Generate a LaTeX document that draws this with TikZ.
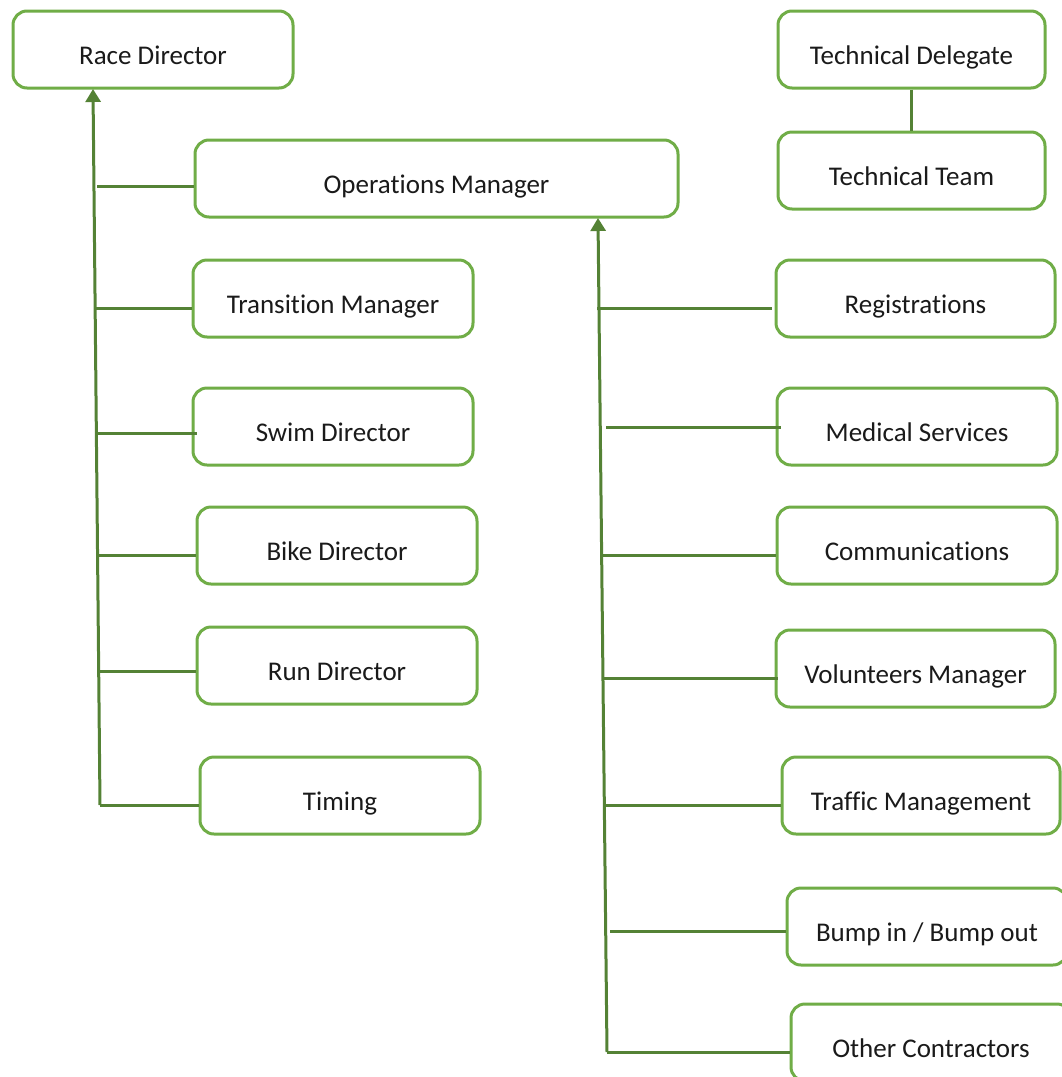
\documentclass[tikz,border=0pt]{standalone}
\usepackage{fontspec}
\setmainfont{Carlito}[Ligatures=NoCommon]
\usetikzlibrary{arrows.meta}
\definecolor{boxgreen}{HTML}{70AD47}
\definecolor{linegreen}{HTML}{548235}
\definecolor{txtgray}{HTML}{1A1A1A}
\tikzset{
  box/.style={draw=boxgreen, line width=3pt, rounded corners=14pt, fill=white,
    minimum height=77pt, inner sep=0pt, text height=30pt, text depth=0pt,
    font=\fontsize{27}{32}\selectfont, text=txtgray},
  conn/.style={draw=linegreen, line width=3pt},
  uparrow/.style={conn, -{Triangle[width=15pt,length=13pt]}}
}
\begin{document}
\begin{tikzpicture}[x=1pt,y=-1pt]
\useasboundingbox (0,0) rectangle (1062,1077);
\clip (0,0) rectangle (1062,1077);
% left column
\node[box, minimum width=280pt] (rd) at (153,49.5) {Race Director};
\node[box, minimum width=483pt] (om) at (436.5,178.5) {Operations Manager};
\node[box, minimum width=280pt] (tm) at (333,298.5) {Transition Manager};
\node[box, minimum width=280pt] (sd) at (333,426.5) {Swim Director};
\node[box, minimum width=280pt] (bd) at (337,545.5) {Bike Director};
\node[box, minimum width=280pt] (rnd) at (337,665.5) {Run Director};
\node[box, minimum width=280pt] (ti) at (340,795.5) {Timing};
% right column
\node[box, minimum width=267pt] (td) at (911.5,49.5) {Technical Delegate};
\node[box, minimum width=267pt] (tt) at (911.5,170.5) {Technical Team};
\node[box, minimum width=279pt] (reg) at (915.5,298.5) {Registrations};
\node[box, minimum width=280pt] (ms) at (917,426.5) {Medical Services};
\node[box, minimum width=280pt] (com) at (917,545.5) {Communications};
\node[box, minimum width=279pt] (vm) at (915.5,668.5) {Volunteers Manager};
\node[box, minimum width=278pt] (tfm) at (921,795.5) {Traffic Management};
\node[box, minimum width=280pt] (bump) at (927,926.5) {Bump in / Bump out};
\node[box, minimum width=280pt] (oc) at (931,1042.5) {Other Contractors};
% technical link
\draw[conn] (td.south) -- (tt.north);
% left trunk
\coordinate (lbot) at (100,805);
\coordinate (ltop) at (93,89);
\draw[uparrow] (lbot) -- (ltop);
\coordinate (l1) at (97,186);
\coordinate (l2) at (96,308);
\coordinate (l3) at (97,433);
\coordinate (l4) at (98,555);
\coordinate (l5) at (100,671);
\draw[conn] (l1) -- (l1 -| om.west);
\draw[conn] (l2) -- (l2 -| tm.west);
\draw[conn] (l3) -- ([xshift=5pt]l3 -| sd.west);
\draw[conn] (l4) -- (l4 -| bd.west);
\draw[conn] (l5) -- (l5 -| rnd.west);
\draw[conn] (lbot) -- (lbot -| ti.west);
% right trunk
\coordinate (rbot) at (607,1052);
\coordinate (rtop) at (598,218);
\draw[uparrow] (rbot) -- (rtop);
\coordinate (r1) at (597,308);
\coordinate (r2) at (606,427);
\coordinate (r3) at (602,555);
\coordinate (r4) at (603,678);
\coordinate (r5) at (605,805);
\coordinate (r6) at (610,931);
\draw[conn] (r1) -- ([xshift=-3pt]r1 -| reg.west);
\draw[conn] (r2) -- ([xshift=5pt]r2 -| ms.west);
\draw[conn] (r3) -- (r3 -| com.west);
\draw[conn] (r4) -- ([xshift=3pt]r4 -| vm.west);
\draw[conn] (r5) -- (r5 -| tfm.west);
\draw[conn] (r6) -- (r6 -| bump.west);
\draw[conn] (rbot) -- (rbot -| oc.west);
\end{tikzpicture}
\end{document}
